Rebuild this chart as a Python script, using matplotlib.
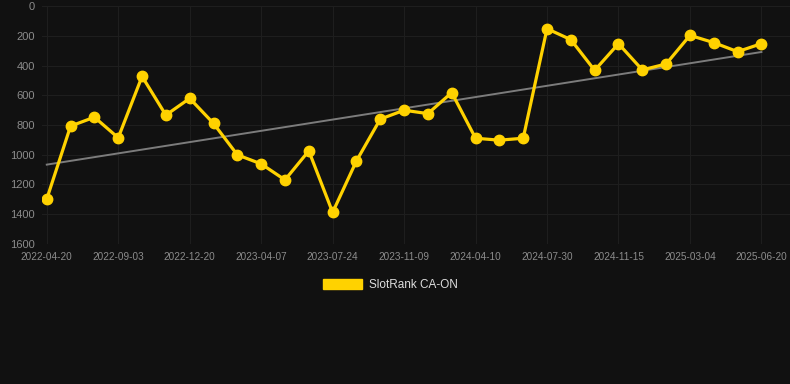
import matplotlib
matplotlib.use("Agg")
import matplotlib.pyplot as plt
from matplotlib.patches import Patch
import numpy as np

plt.rcParams['font.family'] = ['Liberation Sans', 'DejaVu Sans']

# rank over time (lower number = better, axis inverted)
ranks = [1300, 808, 748, 887, 473, 734, 621, 790, 1002, 1063,
         1171, 975, 1390, 1043, 761, 701, 724, 582, 890, 903,
         890, 151, 225, 432, 252, 429, 389, 196, 245, 306, 252]
tick_labels = ['2022-04-20', '2022-09-03', '2022-12-20', '2023-04-07',
               '2023-07-24', '2023-11-09', '2024-04-10', '2024-07-30',
               '2024-11-15', '2025-03-04', '2025-06-20']
y_ticks = [0, 200, 400, 600, 800, 1000, 1200, 1400, 1600]
series_name = 'SlotRank CA-ON'

bg = '#111111'
yellow = '#FFD200'

x = np.arange(len(ranks))

fig = plt.figure(figsize=(7.9, 3.84), dpi=100, facecolor=bg)
ax = fig.add_axes([42/790, 1 - 243.5/384, 1 - 42/790, (243.5 - 6.3)/384])
ax.set_facecolor(bg)

# trend line
coef = np.polyfit(x, ranks, 1)
ax.plot(x, np.polyval(coef, x), color='#7c7c7c', lw=1.4, zorder=2)

ax.plot(x, ranks, color=yellow, lw=2.3, marker='o', markersize=7.5,
        markerfacecolor=yellow, markeredgecolor=yellow, zorder=3)

ax.set_ylim(1600, 0)
ax.set_xlim(-0.2, 31.2)
ax.set_yticks(y_ticks)
ax.set_yticklabels([str(v) for v in y_ticks])
ax.set_xticks(x[::3])
ax.set_xticklabels(tick_labels)

ax.grid(True, color='#1e1e1e', lw=0.8)
ax.set_axisbelow(True)
for s in ax.spines.values():
    s.set_visible(False)
ax.tick_params(axis='y', length=0, pad=5, labelsize=8, labelcolor='#8c8c8c')
ax.tick_params(axis='x', length=0, pad=6, labelsize=7.2, labelcolor='#8c8c8c')

handle = Patch(facecolor=yellow, edgecolor=yellow)
fig.legend([handle], [series_name], loc='center',
           bbox_to_anchor=(390/790, 1 - 285/384), frameon=False,
           fontsize=8.5, labelcolor='#dddddd', handlelength=3.3,
           handleheight=0.95, handletextpad=0.6)

fig.savefig('out.png', dpi=100, facecolor=bg)
